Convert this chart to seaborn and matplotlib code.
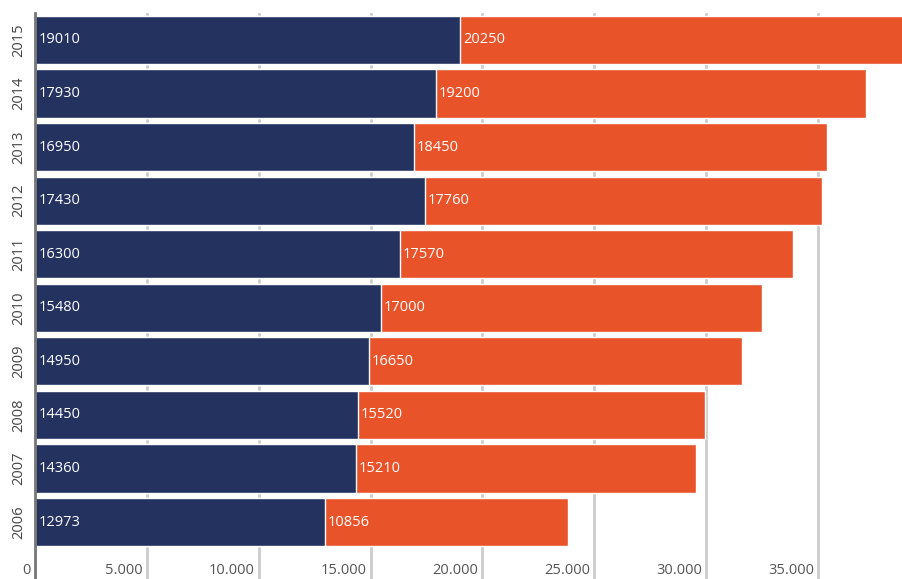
import pandas as pd
import seaborn as sns
import matplotlib.pyplot as plt
import matplotlib.transforms as mtransforms

# data, 2006 -> 2015
years = ["2006", "2007", "2008", "2009", "2010", "2011", "2012", "2013", "2014", "2015"]
dark_vals = [12973, 14360, 14450, 14950, 15480, 16300, 17430, 16950, 17930, 19010]
orange_vals = [10856, 15210, 15520, 16650, 17000, 17570, 17760, 18450, 19200, 20250]
xticks = [0, 5000, 10000, 15000, 20000, 25000, 30000, 35000]
xtick_labels = ["0", "5.000", "10.000", "15.000", "20.000", "25.000", "30.000", "35.000"]

navy = "#243260"
orange = "#E8532A"

df = pd.DataFrame({"year": years, "dark": dark_vals, "orange": orange_vals})
df["total"] = df["dark"] + df["orange"]
order = years[::-1]

sns.set_style("white")
plt.rcParams["font.family"] = ["Open Sans", "DejaVu Sans"]

fig = plt.figure(figsize=(9.02, 5.79), dpi=100)
ax = fig.add_axes([35 / 902, 0, 867 / 902, 566 / 579])

# orange = full total, navy drawn over it
sns.barplot(data=df, x="total", y="year", order=order, color=orange,
            width=0.9, saturation=1, orient="h", ax=ax, zorder=2)
sns.barplot(data=df, x="dark", y="year", order=order, color=navy,
            width=0.9, saturation=1, orient="h", ax=ax, zorder=3)

# value labels
for i, yr in enumerate(order):
    row = df[df["year"] == yr].iloc[0]
    ax.text(170, i, str(row["dark"]), color="white", fontsize=10.5,
            va="center", ha="left", zorder=4)
    ax.text(row["dark"] + 120, i, str(row["orange"]), color="white",
            fontsize=10.5, va="center", ha="left", zorder=4)

ax.set_xlim(0, 38760)
ax.set_ylim(10.064, -0.504)
ax.set_xlabel("")
ax.set_ylabel("")

ax.set_xticks(xticks)
ax.set_xticklabels(xtick_labels, ha="right")
ax.tick_params(axis="x", length=0, pad=-11.5, labelsize=10.5, labelcolor="#555555")
shift = mtransforms.ScaledTranslation(-4 / 100, 0, fig.dpi_scale_trans)
for lab in ax.get_xticklabels():
    lab.set_transform(lab.get_transform() + shift)

ax.set_yticks(range(len(order)))
ax.set_yticklabels(order, rotation=90, va="center")
ax.tick_params(axis="y", length=0, pad=6, labelsize=10.5, labelcolor="#444444")

ax.grid(axis="x", color="#cccccc", linewidth=2)
ax.set_axisbelow(True)
for side in ["top", "right", "bottom"]:
    ax.spines[side].set_visible(False)
ax.spines["left"].set_color("#777777")
ax.spines["left"].set_linewidth(2)
ax.spines["left"].set_zorder(5)

fig.savefig("out.png", dpi=100)
